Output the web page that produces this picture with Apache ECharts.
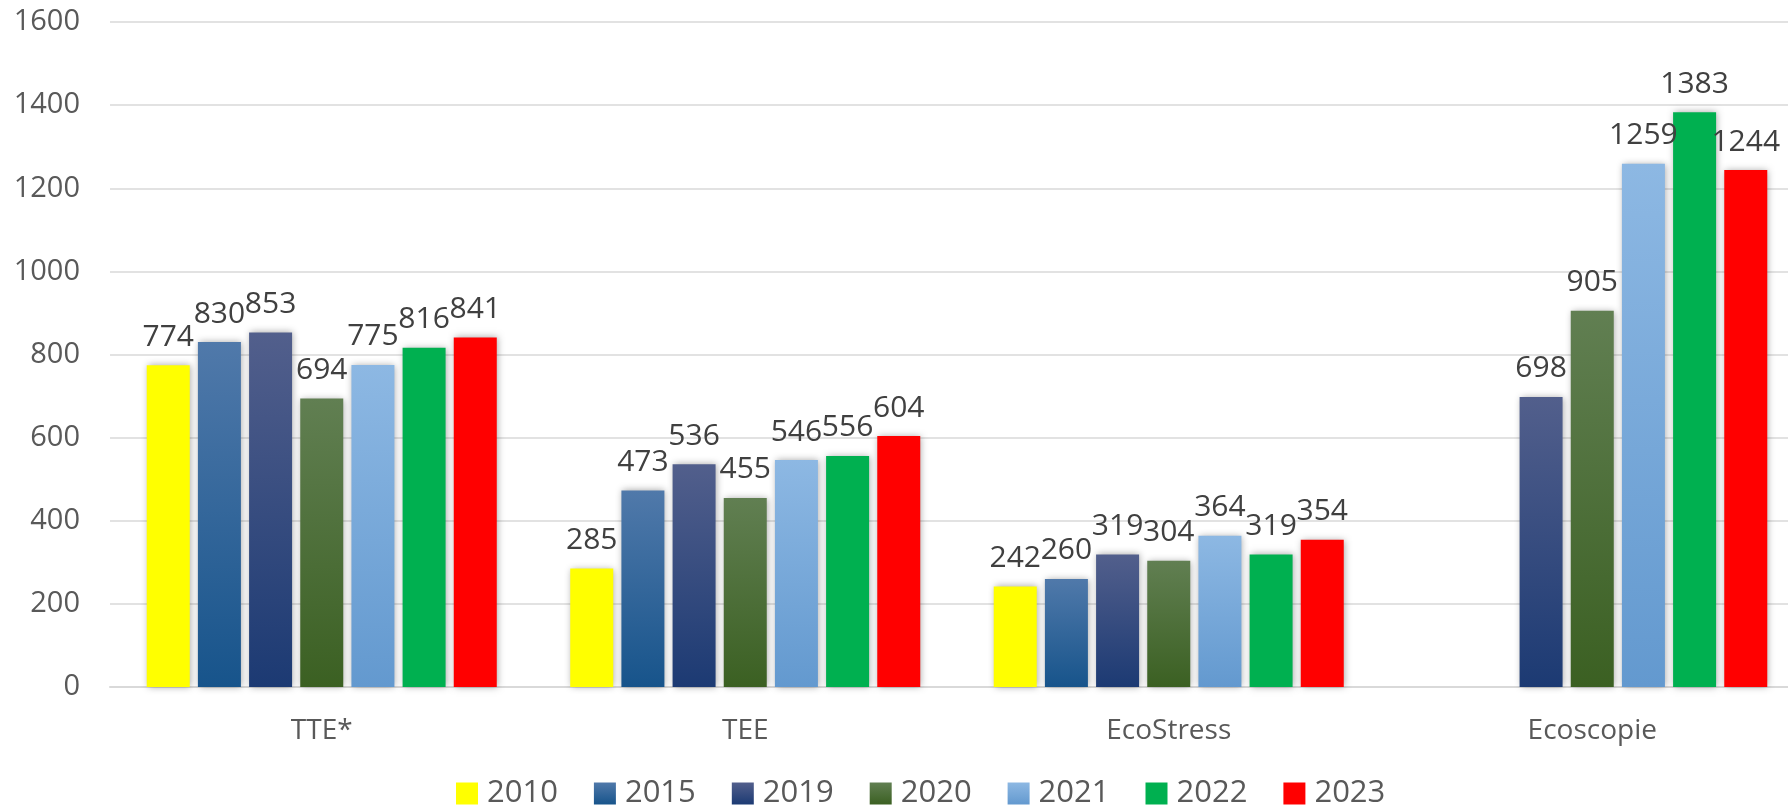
<!DOCTYPE html>
<html>
<head>
<meta charset="utf-8">
<script src="https://cdn.jsdelivr.net/npm/echarts@6/dist/echarts.min.js"></script>
<style>
  html, body { margin: 0; padding: 0; background: #ffffff; overflow: hidden; }
  /* plot area runs past the right edge in the original, so the canvas is a bit wider than the window */
  #chart { width: 1804px; height: 808px; }
</style>
</head>
<body>
<div id="chart"></div>
<script>
var categories = ['TTE*', 'TEE', 'EcoStress', 'Ecoscopie'];
var years = ['2010', '2015', '2019', '2020', '2021', '2022', '2023'];
var yTicks = [0, 200, 400, 600, 800, 1000, 1200, 1400, 1600];

var v2010 = [774, 285, 242, null];
var v2015 = [830, 473, 260, null];
var v2019 = [853, 536, 319, 698];
var v2020 = [694, 455, 304, 905];
var v2021 = [775, 546, 364, 1259];
var v2022 = [816, 556, 319, 1383];
var v2023 = [841, 604, 354, 1244];

var values = [v2010, v2015, v2019, v2020, v2021, v2022, v2023];

function grad(top, bottom) {
  return new echarts.graphic.LinearGradient(0, 0, 0, 1, [
    { offset: 0, color: top },
    { offset: 1, color: bottom }
  ]);
}

var colors = [
  '#ffff00',
  grad('#5079aa', '#17548b'),
  grad('#525f8c', '#1c3a73'),
  grad('#617f52', '#3b6022'),
  grad('#8db8e3', '#6399cf'),
  '#00b050',
  '#ff0000'
];

var chart = echarts.init(document.getElementById('chart'));

var series = [];
for (var i = 0; i < years.length; i++) {
  series.push({
    name: years[i],
    type: 'bar',
    data: values[i],
    barWidth: 43,
    barGap: '19%',
    itemStyle: {
      color: colors[i],
      shadowBlur: 7,
      shadowOffsetX: 1,
      shadowColor: 'rgba(0, 0, 0, 0.35)'
    },
    label: {
      show: true,
      position: 'top',
      distance: 13,
      color: '#404040',
      fontSize: 30,
      fontFamily: 'Open Sans'
    },
    animation: false
  });
}

chart.setOption({
  backgroundColor: '#ffffff',
  textStyle: { fontFamily: 'Open Sans' },
  grid: {
    left: 110,
    right: 0,
    top: 22,
    bottom: 121
  },
  legend: {
    data: years,
    left: 451,
    top: 773,
    icon: 'rect',
    itemWidth: 22,
    itemHeight: 22,
    itemGap: 36,
    textStyle: {
      color: '#595959',
      fontSize: 31,
      fontFamily: 'Open Sans',
      padding: [0, 0, 0, 4]
    }
  },
  xAxis: {
    type: 'category',
    data: categories,
    axisTick: { show: false },
    axisLine: { lineStyle: { color: '#d9d9d9', width: 2 } },
    axisLabel: {
      color: '#595959',
      fontSize: 28,
      margin: 30,
      fontFamily: 'Open Sans'
    }
  },
  yAxis: {
    type: 'value',
    min: yTicks[0],
    max: yTicks[yTicks.length - 1],
    interval: 200,
    axisLine: { show: false },
    axisTick: { show: false },
    splitLine: { lineStyle: { color: '#d9d9d9', width: 1.5 } },
    axisLabel: {
      color: '#595959',
      fontSize: 29,
      margin: 30,
      fontFamily: 'Open Sans',
      formatter: function (v) { return String(v); }
    }
  },
  series: series
});
</script>
</body>
</html>
